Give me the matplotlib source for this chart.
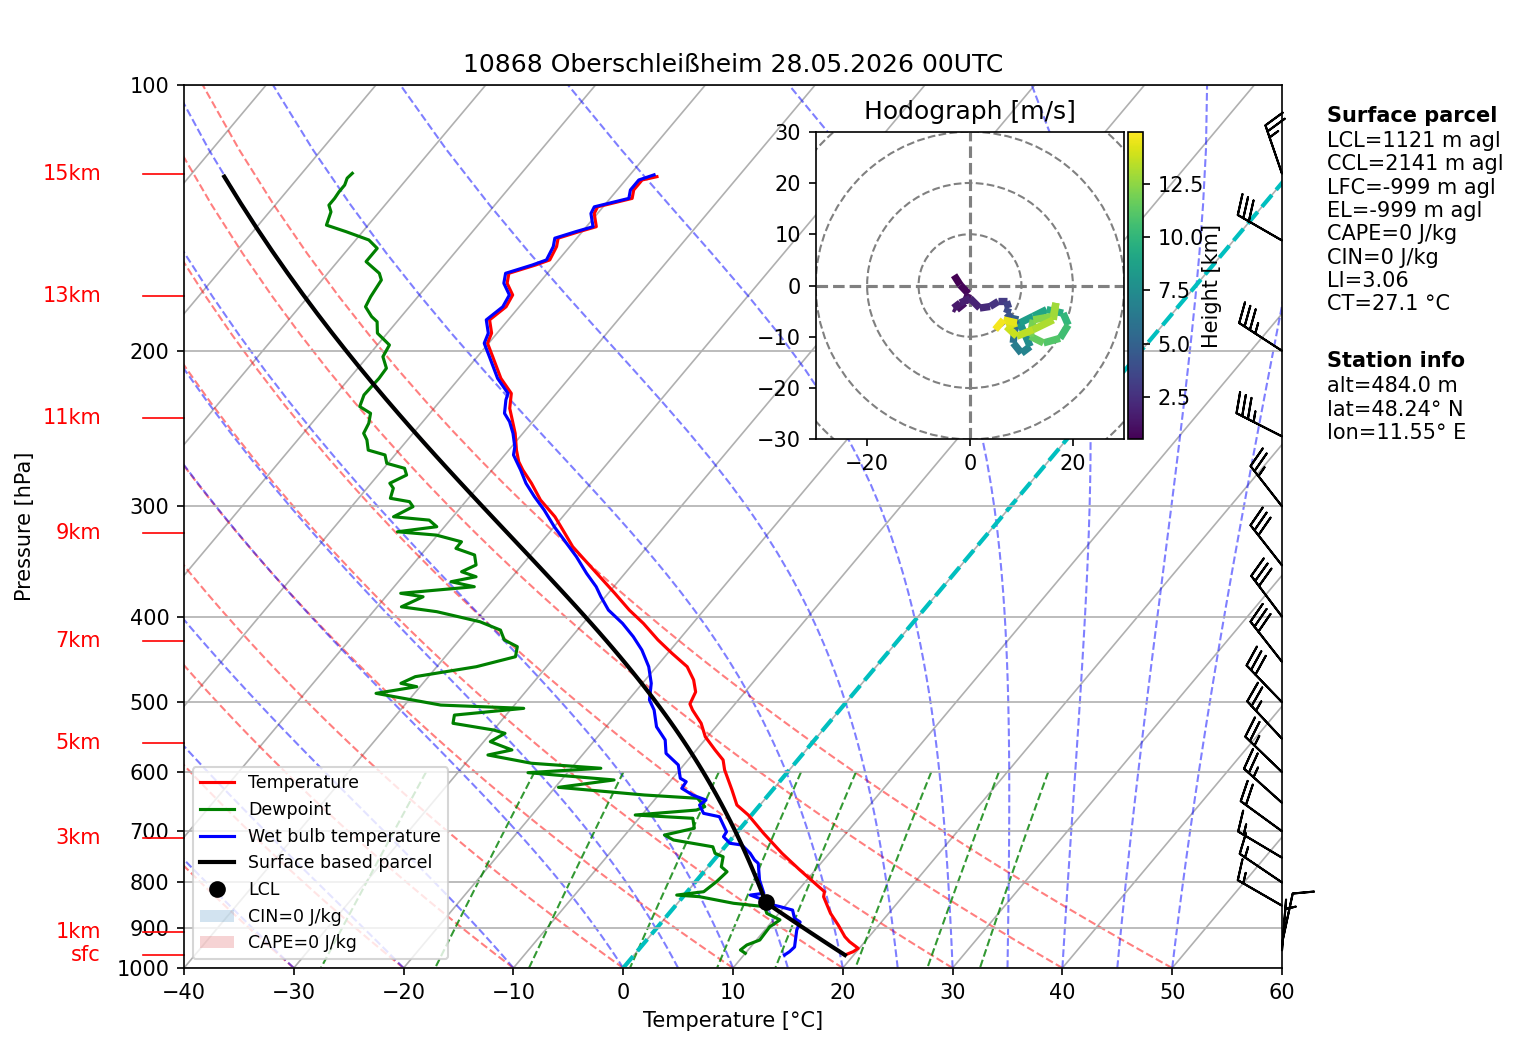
import numpy as np
import matplotlib
matplotlib.use("Agg")
import matplotlib.pyplot as plt
import matplotlib.transforms as mtransforms
from matplotlib.collections import LineCollection
from matplotlib.patches import Patch, Circle
from matplotlib.ticker import MultipleLocator, ScalarFormatter, NullLocator

# ---- sounding, (pressure hPa, value degC) ----
temperature = [
    (127.0, -57.4), (128.1, -58.5), (131.5, -58.5), (134.4, -58.0), (137.4, -60.5),
    (139.8, -60.3), (144.7, -59.1), (146.6, -60.3), (149.1, -61.7), (152.4, -61.2),
    (157.8, -60.8), (159.9, -61.7), (163.4, -63.5), (167.7, -62.9), (172.9, -61.5),
    (178.3, -61.2), (184.5, -61.7), (191.0, -60.5), (196.1, -60.1), (203.1, -58.6),
    (214.9, -56.2), (223.5, -54.1), (232.4, -53.1), (248.0, -50.7), (259.1, -49.3),
    (267.1, -48.2), (272.9, -47.2), (282.5, -45.4), (295.1, -43.3), (308.3, -40.7),
    (324.7, -38.1), (333.3, -36.8), (354.2, -33.1), (376.4, -29.4), (393.2, -26.8),
    (407.1, -24.5), (425.1, -21.9), (440.2, -19.6), (455.8, -17.2), (471.8, -15.6),
    (486.8, -14.5), (502.3, -14.1), (510.3, -13.4), (528.3, -11.6), (547.1, -10.2),
    (566.3, -8.3), (581.3, -6.8), (596.6, -5.9), (628.6, -3.7), (653.8, -2.1),
    (671.0, -0.3), (703.9, 2.5), (741.5, 5.7), (774.5, 8.6), (819.6, 12.5),
    (830.3, 12.8), (867.1, 14.7), (894.0, 16.3), (921.7, 17.8), (933.7, 18.6),
    (950.0, 19.9), (958.3, 19.7), (966.7, 19.2),
]

dewpoint = [
    (125.9, -85.4), (127.5, -85.5), (129.8, -85.2), (132.1, -85.2), (134.4, -85.1),
    (136.8, -85.1), (139.2, -84.4), (144.1, -83.8), (146.6, -81.5), (149.8, -78.8),
    (153.1, -77.4), (158.5, -77.4), (163.4, -75.3), (166.3, -74.6), (173.7, -74.3),
    (178.3, -74.0), (182.9, -72.7), (185.4, -71.8), (191.0, -70.9), (197.0, -68.9),
    (203.1, -68.6), (209.3, -67.4), (214.9, -67.3), (224.4, -67.4), (231.3, -66.9),
    (235.4, -65.4), (241.6, -64.8), (248.0, -64.5), (252.3, -63.7), (259.1, -62.8),
    (262.4, -60.9), (268.2, -60.1), (271.7, -58.1), (276.5, -57.4), (282.5, -58.3),
    (286.2, -57.6), (293.8, -57.1), (296.4, -55.1), (300.3, -54.4), (308.3, -55.4),
    (311.0, -51.9), (316.4, -50.7), (320.6, -53.9), (323.4, -50.1), (329.1, -47.3),
    (334.8, -47.3), (340.6, -45.1), (349.6, -44.2), (355.8, -45.0), (360.5, -43.3),
    (365.2, -45.2), (370.0, -42.7), (376.4, -48.9), (379.8, -46.6), (389.9, -47.8),
    (394.9, -44.2), (405.4, -39.5), (414.3, -37.0), (425.1, -35.9), (432.6, -34.2),
    (444.1, -33.6), (455.8, -36.4), (467.8, -41.2), (476.0, -42.0), (480.2, -40.3),
    (488.6, -43.5), (503.8, -36.7), (508.1, -28.9), (517.1, -34.7), (528.3, -34.2),
    (537.6, -30.0), (542.3, -28.7), (554.2, -29.4), (566.3, -26.8), (573.8, -28.6),
    (586.3, -24.0), (594.0, -17.3), (600.9, -23.6), (612.4, -15.2), (624.3, -19.7),
    (636.9, -11.3), (642.4, -6.2), (656.6, -4.9), (662.4, -5.4), (671.0, -10.6),
    (676.8, -5.1), (694.6, -4.2), (707.0, -6.4), (716.2, -5.2), (729.0, -1.1),
    (741.5, -0.4), (748.2, 0.6), (768.0, 1.2), (778.0, 2.1), (798.5, 1.9),
    (819.6, 1.5), (826.8, -0.7), (830.3, 1.5), (844.7, 5.1), (852.2, 8.2),
    (867.1, 8.9), (882.1, 10.6), (898.1, 10.2), (929.6, 10.3), (941.8, 9.5),
    (954.1, 9.3), (962.4, 10.0),
]

wetbulb = [
    (126.4, -57.8), (128.1, -58.8), (131.5, -58.8), (134.4, -58.3), (137.4, -60.8),
    (139.8, -60.6), (144.7, -59.4), (146.6, -60.6), (149.1, -62.0), (152.4, -61.5),
    (157.8, -61.1), (159.9, -62.0), (163.4, -63.8), (167.7, -63.2), (172.9, -61.8),
    (178.3, -61.5), (184.5, -62.0), (191.0, -60.8), (196.1, -60.4), (203.1, -58.9),
    (214.9, -56.5), (223.5, -54.4), (227.3, -54.1), (235.4, -53.2), (240.6, -52.1),
    (248.0, -50.9), (256.9, -49.7), (262.4, -49.2), (268.2, -48.2), (272.9, -47.4),
    (282.5, -45.9), (292.6, -44.1), (302.9, -42.2), (316.4, -40.0), (327.5, -38.1),
    (342.1, -35.7), (357.3, -33.5), (370.0, -31.6), (379.8, -30.4), (393.2, -28.7),
    (407.1, -26.4), (421.5, -24.4), (436.4, -22.6), (455.8, -20.7), (476.0, -19.2),
    (497.0, -18.1), (510.3, -16.9), (533.1, -15.4), (551.8, -13.6), (571.4, -12.5),
    (588.9, -10.5), (609.7, -9.3), (615.2, -8.5), (625.9, -8.4), (636.9, -6.9),
    (645.3, -5.3), (653.8, -5.5), (668.1, -4.5), (674.0, -2.8), (701.0, -1.0),
    (710.1, -0.9), (722.4, 0.2), (725.6, 1.4), (741.5, 2.8), (754.5, 3.7),
    (761.1, 4.3), (795.2, 5.7), (823.0, 7.1), (826.8, 6.0), (834.0, 7.1),
    (844.7, 8.1), (852.2, 9.6), (859.8, 11.0), (878.4, 11.8), (887.0, 12.6),
    (905.6, 12.9), (946.7, 14.0), (958.3, 13.9), (966.7, 13.7),
]

# surface parcel start
sfc_pres = 966.7
sfc_temp = 19.2
sfc_dewp = 10.0

# wind barbs (knots)
barb_pres = [126, 150, 200, 250, 300, 350, 400, 450, 500, 550, 600, 650, 700, 750, 800, 850, 938, 955]
barb_u = [8.1, 26.0, 29.4, 31.2, 15.4, 18.5, 18.1, 18.5, 20.8, 17.0, 18.0, 18.6, 16.2, 12.9, 12.4, 13.0, -2.1, -0.4]
barb_v = [-23.6, -15.0, -19.1, -15.9, -19.7, -23.6, -24.0, -23.6, -21.6, -18.3, -17.4, -16.7, -11.8, -7.7, -8.4, -7.5, -9.8, -5.0]

# hodograph (m/s) with height (km)
hodo_height = [0.5, 0.7, 0.9, 1.1, 1.3, 1.5, 1.7, 1.9, 2.2, 2.6, 3.0, 3.4, 3.8, 4.2, 4.8, 5.5, 6.0, 6.5, 7.0, 7.5,
               8.0, 8.5, 9.0, 9.5, 10.0, 10.5, 11.0, 11.5, 12.0, 12.3, 12.6, 12.9, 13.2, 13.5, 13.8, 14.1, 14.4, 14.7, 14.95]
hodo_u = [-3.1, -1.9, -0.3, -1.0, -2.6, -3.2, -1.9, 0.0, 1.9, 3.9, 5.5, 7.1, 7.5, 7.1, 8.1, 9.4, 8.7, 8.4, 10.0, 11.7,
          10.7, 9.7, 12.3, 14.9, 18.1, 19.1, 17.5, 14.3, 11.7, 12.3, 16.2, 16.7, 16.2, 12.3, 9.1, 7.1, 9.1, 6.5, 4.9]
hodo_v = [2.0, 0.1, -1.6, -3.4, -4.7, -4.4, -3.4, -2.5, -4.4, -4.1, -3.1, -3.1, -4.4, -5.4, -6.4, -6.7, -8.6, -11.2, -13.2, -11.9,
          -9.6, -7.3, -6.0, -4.7, -5.4, -7.7, -10.3, -11.2, -9.9, -6.7, -6.0, -3.4, -6.7, -8.6, -9.9, -8.0, -7.3, -6.7, -8.6]

height_labels = ["15km", "13km", "11km", "9km", "7km", "5km", "3km", "1km", "sfc"]
height_pres = [126.1, 173.4, 238.4, 321.6, 426.4, 556.1, 712.4, 910.5, 966.7]

parcel_lines = ["LCL=1121 m agl", "CCL=2141 m agl", "LFC=-999 m agl", "EL=-999 m agl",
                "CAPE=0 J/kg", "CIN=0 J/kg", "LI=3.06", "CT=27.1 \u00b0C"]
station_lines = ["alt=484.0 m", "lat=48.24\u00b0 N", "lon=11.55\u00b0 E"]

title = "10868 Oberschlei\u00dfheim 28.05.2026 00UTC"

# ---- thermodynamics for the background lines / parcel ----
Rd = 287.04749
Cp = 1004.6662
Lv = 2.50084e6
EPS = 0.6219569
KAPPA = Rd / Cp


def sat_vp(tk):
    return 6.112 * np.exp(17.67 * (tk - 273.15) / (tk - 29.65))


def dtdp(p, tk):
    es = sat_vp(tk)
    rs = EPS * es / (p - es)
    return (Rd * tk + Lv * rs) / (Cp + Lv * Lv * rs * EPS / (Rd * tk * tk)) / p


def moist_lapse(pres, tk0):
    t = np.array(tk0, dtype=float)
    out = [t.copy()]
    for p0, p1 in zip(pres[:-1], pres[1:]):
        n = int(abs(p1 - p0) / 2.0) + 1
        h = (p1 - p0) / n
        p = p0
        for _ in range(n):
            k1 = dtdp(p, t)
            k2 = dtdp(p + h / 2, t + h / 2 * k1)
            k3 = dtdp(p + h / 2, t + h / 2 * k2)
            k4 = dtdp(p + h, t + h * k3)
            t = t + h / 6 * (k1 + 2 * k2 + 2 * k3 + k4)
            p += h
        out.append(t.copy())
    return np.array(out)


def dewpoint_from_e(e):
    val = np.log(e / 6.112)
    return 243.5 * val / (17.67 - val)


# ---- figure ----
W, H = 1517, 1054
fig = plt.figure(figsize=(W / 150, H / 150), dpi=150)
ax = fig.add_axes([184 / W, 86 / H, 1098 / W, 883 / H])
ax.set_autoscale_on(False)
ax.set_yscale("log")
ax.set_ylim(1000, 100)
ax.set_xlim(-40, 60)

SKEW = np.tan(np.radians(40)) * 883 / (1098 / 100.0)


def sx(t, p):
    return np.asarray(t, dtype=float) + SKEW * np.log10(1000.0 / np.asarray(p, dtype=float))


pp = np.array([1000.0, 100.0])
for t in range(-120, 61, 10):
    ax.plot(sx(t, pp), pp, color="#b0b0b0", lw=0.8, zorder=0.8)
ax.yaxis.grid(True, color="#b0b0b0", lw=0.8)

padi = np.linspace(1000, 100, 50)
# dry adiabats
segs = []
for t0 in np.arange(-40, 51, 10):
    tt = (t0 + 273.15) * (padi / 1000.0) ** KAPPA - 273.15
    segs.append(np.column_stack([sx(tt, padi), padi]))
ax.add_collection(LineCollection(segs, colors="r", linestyles="dashed", alpha=0.5, lw=1, zorder=1))

# moist adiabats
t0m = np.concatenate((np.arange(-40, 0, 10), np.arange(0, 51, 5))) + 273.15
tm = moist_lapse(padi, t0m) - 273.15
segs = [np.column_stack([sx(tm[:, i], padi), padi]) for i in range(len(t0m))]
ax.add_collection(LineCollection(segs, colors="b", linestyles="dashed", alpha=0.5, lw=1, zorder=1))

# mixing ratio lines
pmix = np.linspace(600, 1000, 50)
segs = []
for w in [0.0004, 0.001, 0.002, 0.004, 0.007, 0.01, 0.016, 0.024, 0.032]:
    td = dewpoint_from_e(pmix * w / (EPS + w))
    segs.append(np.column_stack([sx(td, pmix), pmix]))
ax.add_collection(LineCollection(segs, colors="g", linestyles="dashed", alpha=0.8, lw=1, zorder=1))

# 0 degC isotherm
ax.plot(sx(0, pp), pp, color="c", ls="--", lw=2, zorder=1.5)

tp, tt = np.array(temperature).T
dp, dt = np.array(dewpoint).T
wp, wt = np.array(wetbulb).T
l_t, = ax.plot(sx(tt, tp), tp, color="red", lw=1.5, label="Temperature", zorder=3)
l_d, = ax.plot(sx(dt, dp), dp, color="green", lw=1.5, label="Dewpoint", zorder=3)
l_w, = ax.plot(sx(wt, wp), wp, color="blue", lw=1.5, label="Wet bulb temperature", zorder=3)

# surface based parcel
tk0 = sfc_temp + 273.15
e0 = sat_vp(sfc_dewp + 273.15)
w0 = EPS * e0 / (sfc_pres - e0)
p_lcl = sfc_pres
for _ in range(50):
    t_lcl = dewpoint_from_e(p_lcl * w0 / (EPS + w0)) + 273.15
    p_lcl = sfc_pres * (t_lcl / tk0) ** (1 / KAPPA)
t_lcl = tk0 * (p_lcl / sfc_pres) ** KAPPA
p_dry = np.linspace(sfc_pres, p_lcl, 20)
t_dry = tk0 * (p_dry / sfc_pres) ** KAPPA - 273.15
p_wet = np.linspace(p_lcl, tp.min(), 80)
t_wet = moist_lapse(p_wet, np.array([t_lcl]))[:, 0] - 273.15
prof_p = np.concatenate([p_dry, p_wet[1:]])
prof_t = np.concatenate([t_dry, t_wet[1:]])
l_p, = ax.plot(sx(prof_t, prof_p), prof_p, color="black", lw=2, label="Surface based parcel", zorder=3)
l_l, = ax.plot(sx(t_lcl - 273.15, p_lcl), p_lcl, "ko", ms=7, label="LCL", zorder=4)

# wind barbs on the right edge
trans = mtransforms.blended_transform_factory(ax.transAxes, ax.transData)
ax.barbs(np.ones(len(barb_pres)), barb_pres, barb_u, barb_v, transform=trans,
         clip_on=False, length=7, zorder=4)

# height labels
for lab, p in zip(height_labels, height_pres):
    ax.plot([-0.0373, 0], [p, p], transform=trans, color="red", lw=0.8, clip_on=False)
    ax.text(-0.0756, p, lab, transform=trans, color="red", ha="right", va="center", fontsize=10)

ax.set_ylim(1000, 100)
ax.set_xlim(-40, 60)
ax.set_xticks(range(-40, 61, 10))
ax.yaxis.set_major_locator(MultipleLocator(100))
ax.yaxis.set_major_formatter(ScalarFormatter())
ax.yaxis.set_minor_locator(NullLocator())
ax.set_xlabel("Temperature [\u00b0C]")
ax.set_ylabel("Pressure [hPa]")
ax.yaxis.set_label_coords(-0.136, 0.5)
ax.set_title(title)

handles = [l_t, l_d, l_w, l_p, l_l,
           Patch(facecolor="tab:blue", alpha=0.2, label="CIN=0 J/kg"),
           Patch(facecolor="tab:red", alpha=0.2, label="CAPE=0 J/kg")]
ax.legend(handles=handles, loc="lower left", fontsize="small")

# side text
tx = 1327 / W
fig.text(tx, 1 - 121.9 / H, "Surface parcel", fontsize=10, fontweight="bold", va="baseline")
for i, s in enumerate(parcel_lines):
    fig.text(tx, 1 - (146.9 + 23.33 * i) / H, s, fontsize=10, va="baseline")
fig.text(tx, 1 - 366.9 / H, "Station info", fontsize=10, fontweight="bold", va="baseline")
for i, s in enumerate(station_lines):
    fig.text(tx, 1 - (392.5 + 23.33 * i) / H, s, fontsize=10, va="baseline")

# hodograph inset
hax = fig.add_axes([815.7 / W, 1 - 439.3 / H, 308.6 / W, 307.6 / H])
hax.set_xlim(-30, 30)
hax.set_ylim(-30, 30)
for r in (10, 20, 30, 40):
    hax.add_patch(Circle((0, 0), r, fill=False, edgecolor="grey", linestyle="dashed"))
hax.axhline(0, color="grey", linestyle="dashed")
hax.axvline(0, color="grey", linestyle="dashed")
pts = np.column_stack([hodo_u, hodo_v]).reshape(-1, 1, 2)
hsegs = np.concatenate([pts[:-1], pts[1:]], axis=1)
lc = LineCollection(hsegs, cmap="viridis", norm=plt.Normalize(min(hodo_height), max(hodo_height)),
                    linewidth=3.5)
lc.set_array(np.asarray(hodo_height[:-1]))
hax.add_collection(lc)
hax.set_xticks([-20, 0, 20])
hax.set_yticks(range(-30, 31, 10))
hax.set_title("Hodograph [m/s]")
cax = fig.add_axes([1127.7 / W, 1 - 439.3 / H, 15 / W, 307.6 / H])
cb = fig.colorbar(lc, cax=cax)
cb.set_ticks([2.5, 5.0, 7.5, 10.0, 12.5])
cb.set_label("Height [km]", labelpad=-1)

fig.savefig("out.png", dpi=150)
